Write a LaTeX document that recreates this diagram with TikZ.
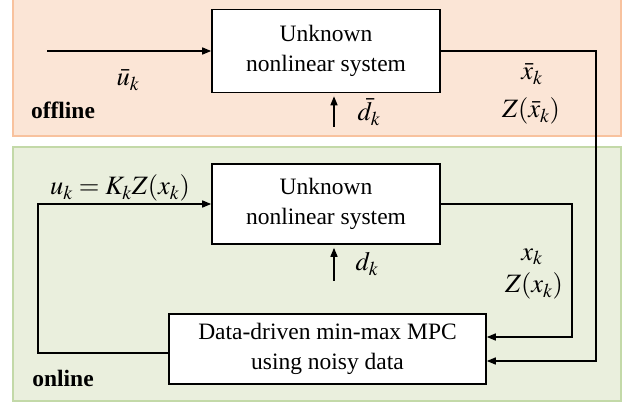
\documentclass[tikz,border=0pt]{standalone}
\usepackage{mathptmx}
\usepackage{fontspec}
\setmainfont{Liberation Serif}
\usetikzlibrary{arrows.meta}
\definecolor{offfill}{HTML}{FBE5D6}
\definecolor{offdraw}{HTML}{F8C29E}
\definecolor{onfill}{HTML}{EAEFDD}
\definecolor{ondraw}{HTML}{C3D9A8}
\begin{document}
\begin{tikzpicture}[x=1pt,y=-1pt,>={Triangle[length=9pt,width=7pt]},line width=1.5pt,
  every node/.style={font=\fontsize{23.5}{30}\selectfont},
  block/.style={draw,fill=white,align=center,line width=1.6pt,inner sep=0pt},
  lbl/.style={font=\fontsize{26.5}{30}\selectfont,inner sep=0pt},
  tag/.style={font=\fontsize{23.5}{30}\selectfont\bfseries,inner sep=1pt},
  panel/.style={line width=2.5pt}]
	\useasboundingbox (0,0) rectangle (632,405);
	% panels
	\filldraw[panel,fill=offfill,draw=offdraw] (13,-5) rectangle (621,136);
	\filldraw[panel,fill=onfill,draw=ondraw] (13,147) rectangle (621,401);
	% blocks
	\node[block,minimum width=228pt,minimum height=83pt] (sysoff) at (326,51) {Unknown\\nonlinear system};
	\node[block,minimum width=228pt,minimum height=80pt] (syson) at (326,204) {Unknown\\nonlinear system};
	\node[block,minimum width=317pt,minimum height=70pt] (mpc) at (327.5,349) {Data-driven min-max MPC\\using noisy data};
	% offline part
	\coordinate (uin) at (47,51);
	\draw[->] (uin) -- (sysoff.west);
	\draw[->] (sysoff.east) -- ++(155,0) |- ([yshift=-12pt]mpc.east);
	\draw[<-] ([xshift=8pt,yshift=-3pt]sysoff.south) -- ++(0,31);
	\node[lbl] (ubar) at (128,80) {$\bar{u}_k$};
	\node[lbl] (dbar) at (369,112) {$\bar{d}_k$};
	\node[lbl] (xbar) at (532,74) {$\bar{x}_k$};
	\node[lbl] (zbar) at (531,111) {$Z(\bar{x}_k)$};
	\node[tag] (offl) at (63,110) {offline};
	% online part
	\draw[->] (syson.east) -- ++(131,0) |- ([yshift=12pt]mpc.east);
	\draw[->] ([yshift=-4pt]mpc.west) -- ++(-130,0) |- (syson.west);
	\draw[<-] ([xshift=8pt,yshift=-3pt]syson.south) -- ++(0,33);
	\node[lbl] (uk) at (120,188) {$u_k = K_k Z(x_k)$};
	\node[lbl] (dk) at (367,264) {$d_k$};
	\node[lbl] (xk) at (532,257) {$x_k$};
	\node[lbl] (zk) at (534,286) {$Z(x_k)$};
	\node[tag] (onl) at (63,378) {online};
\end{tikzpicture}
\end{document}
